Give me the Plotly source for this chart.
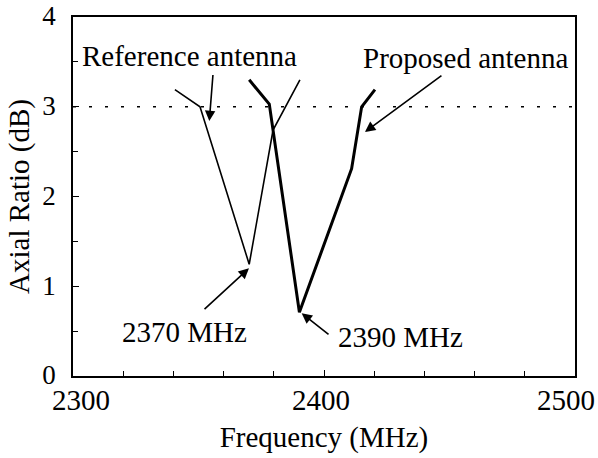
import plotly.graph_objects as go

# Data
ref_freq = [2340.6, 2350.6, 2370.2, 2379.7, 2390.4]
ref_ar = [3.19, 3.00, 1.245, 2.74, 3.30]
prop_freq = [2370.2, 2378.2, 2390.2, 2411.0, 2415.0, 2420.3]
prop_ar = [3.30, 3.03, 0.71, 2.31, 3.00, 3.19]
threshold = 3.0
x_ticks = [2300, 2400, 2500]
y_ticks = [0, 1, 2, 3, 4]

FONT = "Liberation Serif"
FS = 29
TF = dict(family=FONT, size=FS, color="black")

fig = go.Figure()
fig.add_trace(go.Scatter(x=[2300, 2500], y=[threshold, threshold], mode="lines",
                         line=dict(color="black", width=1.6, dash="3px,13px"),
                         showlegend=False, hoverinfo="skip"))
fig.add_trace(go.Scatter(x=ref_freq, y=ref_ar, mode="lines",
                         line=dict(color="black", width=1.6), showlegend=False))
fig.add_trace(go.Scatter(x=prop_freq, y=prop_ar, mode="lines",
                         line=dict(color="black", width=3), showlegend=False))

arrows = [
    # (head_x, head_y, tail_x, tail_y)
    (2354.3, 2.84, 2355.8, 3.37),
    (2416.3, 2.72, 2447.4, 3.36),
    (2370.1, 1.20, 2351.8, 0.73),
    (2391.1, 0.70, 2402.4, 0.45),
]
for hx, hy, tx, ty in arrows:
    fig.add_annotation(x=hx, y=hy, ax=tx, ay=ty, xref="x", yref="y",
                       axref="x", ayref="y", text="", showarrow=True,
                       arrowhead=2, arrowsize=1.3, arrowwidth=1.6, arrowcolor="black")

labels = [
    ("Reference antenna", 2346.5, 3.56),
    ("Proposed antenna", 2456.5, 3.54),
    ("2370 MHz", 2344.3, 0.49),
    ("2390 MHz", 2430.3, 0.43),
]
for t, x, y in labels:
    fig.add_annotation(x=x, y=y, xref="x", yref="y", text=t, showarrow=False, font=TF)

# x tick labels (kept inside the figure like the reference: end labels pulled inward)
for i, v in enumerate(x_ticks):
    shift = 8 if i == 0 else (-9 if i == len(x_ticks) - 1 else -3)
    fig.add_annotation(x=v, y=0, xref="x", yref="paper", text=str(v), showarrow=False,
                       yanchor="top", xanchor="center", xshift=shift, yshift=-6, font=TF)

fig.update_xaxes(range=[2300, 2500], tickvals=x_ticks, showticklabels=False,
                 ticks="inside", ticklen=6, tickcolor="black", automargin=False,
                 minor=dict(dtick=20, ticks="inside", ticklen=5, tickcolor="black"),
                 showline=True, linecolor="black", linewidth=1.6, mirror=True,
                 showgrid=False, zeroline=False,
                 title=dict(text="Frequency (MHz)", font=TF, standoff=50))
fig.update_yaxes(range=[0, 4], tickvals=y_ticks, ticktext=[str(v) for v in y_ticks],
                 ticks="inside", ticklen=6, tickcolor="black", ticklabeloverflow="allow",
                 ticklabelstandoff=10, ticklabelshift=-1, automargin=False,
                 minor=dict(dtick=0.5, ticks="inside", ticklen=5, tickcolor="black"),
                 showline=True, linecolor="black", linewidth=1.6, mirror=True,
                 showgrid=False, zeroline=False,
                 tickfont=dict(family=FONT, size=27, color="black"),
                 title=dict(text="Axial Ratio (dB)", font=TF, standoff=4))

fig.update_layout(width=598, height=458, margin=dict(l=73, r=23, t=17, b=82),
                  plot_bgcolor="white", paper_bgcolor="white")

fig.write_html("out.html")
